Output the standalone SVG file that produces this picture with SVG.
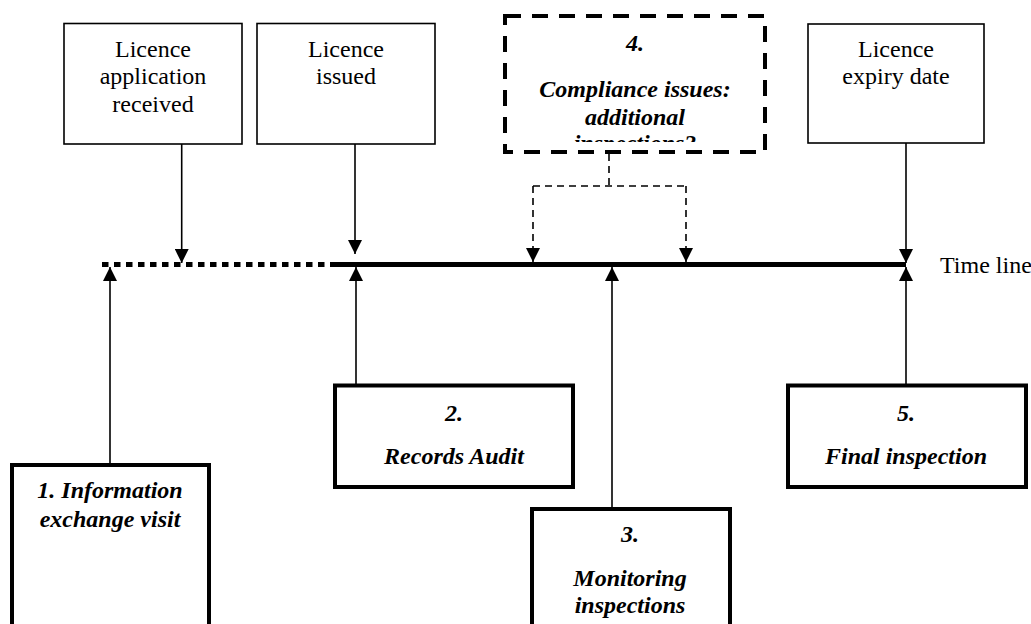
<svg xmlns="http://www.w3.org/2000/svg" width="1031" height="624" viewBox="0 0 1031 624" font-family="Liberation Serif, Times New Roman, serif">
  <style>
    .thin { fill: #fff; stroke: #000; stroke-width: 1.6; }
    .thick { fill: #fff; stroke: #000; stroke-width: 4; }
    .dbox { fill: #fff; stroke: #000; stroke-width: 4; stroke-dasharray: 16 11; }
    .conn { fill: none; stroke: #000; stroke-width: 1.6; }
    .dconn { fill: none; stroke: #000; stroke-width: 1.6; stroke-dasharray: 7 5; }
  </style>
  <defs>
    <marker id="arrow" markerUnits="userSpaceOnUse" markerWidth="14" markerHeight="14" refX="14" refY="7" orient="auto">
      <path d="M0,0 L14,7 L0,14 Z" fill="#000" stroke="none"/>
    </marker>
    <clipPath id="clip4">
      <rect x="505" y="16" width="260" height="126"/>
    </clipPath>
  </defs>
  <rect width="1031" height="624" fill="#fff"/>

  <g id="connectors">
    <line x1="102" y1="264.5" x2="330" y2="264.5" stroke="#000" stroke-width="5" stroke-dasharray="6.5 5.5"/>
    <line x1="330" y1="264.5" x2="906" y2="264.5" stroke="#000" stroke-width="5"/>
    <line class="conn" x1="181.7" y1="144" x2="181.7" y2="263" marker-end="url(#arrow)"/>
    <line class="conn" x1="355" y1="144" x2="355" y2="254" marker-end="url(#arrow)"/>
    <line class="conn" x1="906" y1="143" x2="906" y2="263" marker-end="url(#arrow)"/>
    <path class="dconn" d="M609,154 V186 M533,186 H686"/>
    <path class="dconn" d="M533,186 V262" marker-end="url(#arrow)"/>
    <path class="dconn" d="M686,186 V262" marker-end="url(#arrow)"/>
    <line class="conn" x1="110" y1="465" x2="110" y2="267" marker-end="url(#arrow)"/>
    <line class="conn" x1="356" y1="385" x2="356" y2="267" marker-end="url(#arrow)"/>
    <line class="conn" x1="612" y1="509" x2="612" y2="267" marker-end="url(#arrow)"/>
    <line class="conn" x1="906" y1="386" x2="906" y2="267" marker-end="url(#arrow)"/>
  </g>

  <g id="timeline-label" font-family="Liberation Serif, serif" font-size="24" fill="#000">
    <text x="940" y="273">Time line</text>
  </g>

  <g id="node-application">
    <rect class="thin" x="64" y="23.5" width="178" height="120.5"/>
    <g font-family="Liberation Serif, serif" font-size="24" text-anchor="middle" fill="#000">
      <text x="153" y="57">Licence</text>
      <text x="153" y="84">application</text>
      <text x="153" y="111.5">received</text>
    </g>
  </g>

  <g id="node-issued">
    <rect class="thin" x="257" y="23.5" width="178" height="120.5"/>
    <g font-family="Liberation Serif, serif" font-size="24" text-anchor="middle" fill="#000">
      <text x="346" y="57">Licence</text>
      <text x="346" y="84">issued</text>
    </g>
  </g>

  <g id="node-compliance">
    <rect class="dbox" x="505" y="16" width="260" height="136"/>
    <g clip-path="url(#clip4)" font-family="Liberation Serif, serif" font-size="24" font-weight="bold" font-style="italic" text-anchor="middle" fill="#000">
      <text x="635" y="51">4.</text>
      <text x="635" y="97">Compliance issues:</text>
      <text x="635" y="124.5">additional</text>
      <text x="635" y="151">inspections?</text>
    </g>
  </g>

  <g id="node-expiry">
    <rect class="thin" x="808" y="24" width="176" height="119"/>
    <g font-family="Liberation Serif, serif" font-size="24" text-anchor="middle" fill="#000">
      <text x="896" y="57">Licence</text>
      <text x="896" y="84">expiry date</text>
    </g>
  </g>

  <g id="node-1">
    <rect class="thick" x="12" y="465" width="197" height="180"/>
    <g font-family="Liberation Serif, serif" font-size="24" font-weight="bold" font-style="italic" text-anchor="middle" fill="#000">
      <text x="110" y="498">1. Information</text>
      <text x="110" y="527">exchange visit</text>
    </g>
  </g>

  <g id="node-2">
    <rect class="thick" x="335" y="385.5" width="238" height="101.5"/>
    <g font-family="Liberation Serif, serif" font-size="24" font-weight="bold" font-style="italic" text-anchor="middle" fill="#000">
      <text x="454" y="421">2.</text>
      <text x="454" y="464">Records Audit</text>
    </g>
  </g>

  <g id="node-3">
    <rect class="thick" x="532" y="509" width="198" height="140"/>
    <g font-family="Liberation Serif, serif" font-size="24" font-weight="bold" font-style="italic" text-anchor="middle" fill="#000">
      <text x="630" y="542">3.</text>
      <text x="630" y="586">Monitoring</text>
      <text x="630" y="613">inspections</text>
    </g>
  </g>

  <g id="node-5">
    <rect class="thick" x="788" y="385.5" width="238" height="101.5"/>
    <g font-family="Liberation Serif, serif" font-size="24" font-weight="bold" font-style="italic" text-anchor="middle" fill="#000">
      <text x="906" y="421">5.</text>
      <text x="906" y="464">Final inspection</text>
    </g>
  </g>
</svg>
